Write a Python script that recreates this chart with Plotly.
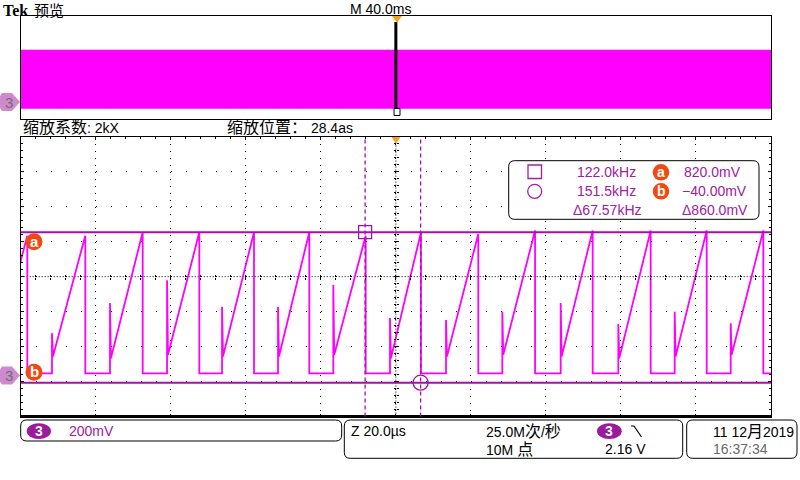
import plotly.graph_objects as go

W, H = 800, 480

# Zoom window: channel 3, 200 mV/div, 20 us/div, trigger at screen centre
drop_times_us = [-98.24, -82.78, -67.48, -52.39, -37.81, -23.07, -8.04,
                 6.70, 21.98, 37.11, 52.47, 67.93, 82.86, 97.95]
rise_times_us = [-106.90, -91.66, -76.20, -60.99, -46.33, -31.41, -16.67,
                 -1.56, 13.37, 28.38, 43.94, 59.30, 74.33, 89.26]
spike_top_v = [0.400, 0.243, 0.415, 0.546, 0.394, 0.394, 0.518,
               0.329, 0.318, 0.365, 0.415, 0.295, 0.365, 0.300]
ramp_foot_v = [0.11, 0.11, 0.10, 0.12, 0.11, 0.11, 0.12,
               0.10, 0.11, 0.12, 0.11, 0.10, 0.11, 0.12]
ramp_peak_v = [0.80, 0.80, 0.82, 0.82, 0.82, 0.82, 0.80,
               0.82, 0.81, 0.83, 0.83, 0.83, 0.83, 0.83]
baseline_v = 0.013
window_end_us = 100.0

time_per_div_us = 20.0
volts_per_div = 0.2
screen_center_v = 0.566
n_hdiv, n_vdiv = 10, 8

cursor_t_us = [-8.197, 6.601]
cursor_v = [0.820, -0.040]

# Overview (preview) record: 40 ms/div
overview_t_ms = [-200.0, 200.0]
overview_hi_v = [0.81, 0.81]
overview_lo_v = [-0.105, -0.105]
overview_range_v = [-0.264, 1.335]
overview_zoom_ms = 0.0

readout_freq = ["122.0kHz", "151.5kHz", "Δ67.57kHz"]
readout_volt = ["820.0mV", "−40.00mV", "Δ860.0mV"]

# ---------------- helpers (pixel -> paper) ----------------
def PX(x):
    return x / W


def PY(y):
    return 1 - y / H


def rrect(x0, y0, x1, y1, r):
    p = [
        f"M{PX(x0 + r)},{PY(y0)}", f"L{PX(x1 - r)},{PY(y0)}",
        f"Q{PX(x1)},{PY(y0)} {PX(x1)},{PY(y0 + r)}", f"L{PX(x1)},{PY(y1 - r)}",
        f"Q{PX(x1)},{PY(y1)} {PX(x1 - r)},{PY(y1)}", f"L{PX(x0 + r)},{PY(y1)}",
        f"Q{PX(x0)},{PY(y1)} {PX(x0)},{PY(y1 - r)}", f"L{PX(x0)},{PY(y0 + r)}",
        f"Q{PX(x0)},{PY(y0)} {PX(x0 + r)},{PY(y0)}", "Z",
    ]
    return " ".join(p)


def poly(points):
    s = "M" + " L".join(f"{PX(x)},{PY(y)}" for x, y in points)
    return s + " Z"


FONT = "Liberation Sans, Noto Sans CJK SC, sans-serif"
PURPLE = "#A020A0"
CUR = "#A410A8"
MAG = "#FF00FF"
ORANGE = "#F04A10"


def cjk(s, size=16):
    return f'<span style="font-size:{size}px">{s}</span>'


# ---------------- waveform ----------------
wave_t, wave_v = [], []
for r, d, s, f, p in zip(rise_times_us, drop_times_us, spike_top_v, ramp_foot_v, ramp_peak_v):
    wave_t += [r, r, r + 0.25, d, d]
    wave_v += [baseline_v, s, f, p, baseline_v]
wave_t.append(window_end_us)
wave_v.append(baseline_v)

half_t = time_per_div_us * n_hdiv / 2
y_rng = [screen_center_v - volts_per_div * n_vdiv / 2, screen_center_v + volts_per_div * n_vdiv / 2]

xdom = [PX(20.7), PX(771)]
ydom = [PY(416.6), PY(136.7)]
ov_ydom = [PY(119), PY(16)]

fig = go.Figure()
fig.add_trace(go.Scatter(x=wave_t, y=wave_v, mode="lines", line=dict(color=MAG, width=1.8),
                         xaxis="x", yaxis="y", hoverinfo="skip"))
fig.add_trace(go.Scatter(x=[cursor_t_us[0]], y=[cursor_v[0]], mode="markers",
                         marker=dict(symbol="square-open", size=13, color=CUR, line=dict(width=1.3)),
                         xaxis="x", yaxis="y", hoverinfo="skip"))
fig.add_trace(go.Scatter(x=[cursor_t_us[1]], y=[cursor_v[1]], mode="markers",
                         marker=dict(symbol="circle-open", size=15, color=CUR, line=dict(width=1.3)),
                         xaxis="x", yaxis="y", hoverinfo="skip"))
fig.add_trace(go.Scatter(x=overview_t_ms, y=overview_lo_v, mode="lines", line=dict(width=0, color=MAG),
                         xaxis="x2", yaxis="y2", hoverinfo="skip"))
fig.add_trace(go.Scatter(x=overview_t_ms, y=overview_hi_v, mode="lines", fill="tonexty", fillcolor=MAG,
                         line=dict(width=0, color=MAG), xaxis="x2", yaxis="y2", hoverinfo="skip"))
for xa, ya in [("x3", "y"), ("x4", "y"), ("x", "y3"), ("x", "y4")]:
    fig.add_trace(go.Scatter(x=[None], y=[None], mode="lines", xaxis=xa, yaxis=ya, hoverinfo="skip"))

main_common = dict(showline=True, linecolor="black", linewidth=1, mirror="ticks", zeroline=False,
                   showticklabels=False, ticks="inside", ticklen=3, tickcolor="black", tickwidth=1,
                   showgrid=True, gridcolor="black", gridwidth=1, fixedrange=True, tickmode="linear")
dot_x = (ydom[1] - ydom[0]) * H / (n_vdiv * 5)
dot_y = (xdom[1] - xdom[0]) * W / (n_hdiv * 5)
xaxis = dict(main_common, domain=xdom, range=[-half_t, half_t], anchor="y", tick0=0, dtick=time_per_div_us,
             griddash=f"1px,{dot_x - 1:.3f}px",
             minor=dict(dtick=time_per_div_us / 5, tick0=0, ticks="inside", ticklen=2, tickcolor="black",
                        showgrid=False))
yaxis = dict(main_common, domain=ydom, range=y_rng, anchor="x", tick0=screen_center_v, dtick=volts_per_div,
             griddash=f"1px,{dot_y - 1:.3f}px",
             minor=dict(dtick=volts_per_div / 5, tick0=screen_center_v, ticks="inside", ticklen=2,
                        tickcolor="black", showgrid=False))

cx_pos = (ydom[0] + ydom[1]) / 2
cy_pos = (xdom[0] + xdom[1]) / 2
centre_x = dict(overlaying="x", anchor="free", position=cx_pos, range=[-half_t, half_t], showline=False,
                showgrid=False, zeroline=False, showticklabels=False, ticklen=2, tickcolor="black",
                tickmode="linear", tick0=0, dtick=time_per_div_us / 5, fixedrange=True, side="bottom")
centre_y = dict(overlaying="y", anchor="free", position=cy_pos, range=y_rng, showline=False,
                showgrid=False, zeroline=False, showticklabels=False, ticklen=2, tickcolor="black",
                tickmode="linear", tick0=screen_center_v, dtick=volts_per_div / 5, fixedrange=True, side="left")

ov_common = dict(showline=True, linecolor="black", linewidth=1, mirror=True, zeroline=False,
                 showticklabels=False, ticks="", showgrid=False, fixedrange=True)

shapes = []
# dense centre lines
shapes.append(dict(type="line", xref="x", yref="y", x0=-half_t, x1=half_t, y0=screen_center_v,
                   y1=screen_center_v, line=dict(color="black", width=1, dash="1px,2px"), layer="below"))
shapes.append(dict(type="line", xref="x", yref="y", x0=0, x1=0, y0=y_rng[0], y1=y_rng[1],
                   line=dict(color="black", width=1, dash="1px,2px"), layer="below"))
# thick bottom border
shapes.append(dict(type="line", xref="x domain", yref="y domain", x0=0, x1=1, y0=0, y1=0,
                   line=dict(color="black", width=3)))
# cursors
for v in cursor_v:
    shapes.append(dict(type="line", xref="x domain", yref="y", x0=0, x1=1, y0=v, y1=v,
                       line=dict(color=CUR, width=2)))
for t in cursor_t_us:
    shapes.append(dict(type="line", xref="x", yref="y domain", x0=t, x1=t, y0=0, y1=1,
                       line=dict(color=CUR, width=1.3, dash="4px,3px")))
# overview zoom bar, square, triangles
shapes.append(dict(type="line", xref="x2", yref="paper", x0=overview_zoom_ms, x1=overview_zoom_ms,
                   y0=PY(108), y1=PY(22), line=dict(color="black", width=3)))
shapes.append(dict(type="rect", xref="paper", yref="paper", x0=PX(394), x1=PX(400), y0=PY(115.5), y1=PY(108.5),
                   line=dict(color="black", width=1), fillcolor="white"))
shapes.append(dict(type="path", xref="paper", yref="paper", path=poly([(392, 16), (402, 16), (397, 22.5)]),
                   fillcolor="#F5A020", line=dict(width=0)))
shapes.append(dict(type="path", xref="paper", yref="paper", path=poly([(391.5, 137), (400.5, 137), (396, 143.5)]),
                   fillcolor="#F5A020", line=dict(width=0)))
# channel 3 ground markers
for gy in [375.5, 102.0]:
    shapes.append(dict(type="path", xref="paper", yref="paper",
                       path=poly([(2, gy - 9), (12, gy - 9), (20, gy), (12, gy + 9), (2, gy + 9), (0, gy + 6), (0, gy - 6)]),
                       fillcolor="#CF8ACF", line=dict(width=0)))
# orange cursor labels on the left
for cy in [241.7, 372.3]:
    shapes.append(dict(type="circle", xref="paper", yref="paper", x0=PX(34 - 8.5), x1=PX(34 + 8.5),
                       y0=PY(cy + 8.5), y1=PY(cy - 8.5), fillcolor=ORANGE, line=dict(width=0)))
# readout box
shapes.append(dict(type="path", xref="paper", yref="paper", path=rrect(508.7, 160.7, 759, 219.3, 6),
                   fillcolor="white", line=dict(color="black", width=1)))
shapes.append(dict(type="rect", xref="paper", yref="paper", x0=PX(528), x1=PX(541.5), y0=PY(178.5), y1=PY(165),
                   line=dict(color=PURPLE, width=1.3)))
shapes.append(dict(type="circle", xref="paper", yref="paper", x0=PX(527.7), x1=PX(541.7), y0=PY(198.3), y1=PY(184.3),
                   line=dict(color=PURPLE, width=1.3)))
for cy in [172.3, 191.3]:
    shapes.append(dict(type="circle", xref="paper", yref="paper", x0=PX(661 - 8.3), x1=PX(661 + 8.3),
                       y0=PY(cy + 8.3), y1=PY(cy - 8.3), fillcolor=ORANGE, line=dict(width=0)))
# bottom status boxes
for b in [(20.7, 420, 341.7, 441), (344.3, 420, 682.7, 458.3), (686.7, 420, 797, 458.3)]:
    shapes.append(dict(type="path", xref="paper", yref="paper", path=rrect(*b, 6),
                       fillcolor="rgba(0,0,0,0)", line=dict(color="black", width=1)))
for (x0, x1) in [(26.7, 51), (597, 621.7)]:
    shapes.append(dict(type="circle", xref="paper", yref="paper", x0=PX(x0), x1=PX(x1), y0=PY(439), y1=PY(423.3),
                       fillcolor="#9C1A9C", line=dict(width=0)))
shapes.append(dict(type="path", xref="paper", yref="paper",
                   path=f"M{PX(631)},{PY(426)} L{PX(634)},{PY(426)} L{PX(641.5)},{PY(437)}",
                   line=dict(color="black", width=1.2)))

ann = []


def text(x, y, s, anchor="left", color="black", size=14, family=FONT, bold=False, yanchor="middle"):
    ann.append(dict(xref="paper", yref="paper", x=PX(x), y=PY(y), text=(f"<b>{s}</b>" if bold else s),
                    showarrow=False, xanchor=anchor, yanchor=yanchor,
                    font=dict(family=family, size=size, color=color)))


text(0.5, 10, "Tek", size=16, family="Liberation Serif, serif", bold=True)
text(32, 10, "预览", size=15, family=FONT)
text(348, 9, "M 40.0ms")
text(20.5, 127, cjk("缩放系数") + ": 2kX")
text(225, 127, cjk("缩放位置：") + " 28.4as")

for i, y in enumerate([172.3, 191.3]):
    text(638, y, readout_freq[i], anchor="right", color=PURPLE)
text(644, 210, readout_freq[2], anchor="right", color=PURPLE)
text(743, 172.3, readout_volt[0], anchor="right", color=PURPLE)
text(748.5, 191.3, readout_volt[1], anchor="right", color=PURPLE)
text(749.5, 210, readout_volt[2], anchor="right", color=PURPLE)
for y, s in [(172.3, "a"), (191.3, "b")]:
    text(661, y - 0.5, s, anchor="center", color="white", size=14, bold=True)
for y, s in [(241.7, "a"), (372.3, "b")]:
    text(34, y - 0.5, s, anchor="center", color="white", size=15, bold=True)
for gy in [375.5, 102.0]:
    text(9, gy, "3", anchor="center", color="#6E6E6E", size=15)

text(38.8, 431, "3", anchor="center", color="white", size=14, bold=True)
text(67, 431, "200mV", color=PURPLE)
text(348.5, 431, "Z 20.0µs")
text(484, 431, "25.0M" + cjk("次") + "/" + cjk("秒"))
text(609.3, 431, "3", anchor="center", color="white", size=14, bold=True)
text(484, 449, "10M " + cjk("点"))
text(603, 449, "2.16 V")
text(710.5, 431, "11 12" + cjk("月") + "2019")
text(710.5, 449, "16:37:34", color="#6A6A6A")

fig.update_layout(
    width=W, height=H, margin=dict(l=0, r=0, t=0, b=0),
    paper_bgcolor="white", plot_bgcolor="white", showlegend=False,
    font=dict(family=FONT, size=14, color="black"),
    xaxis=xaxis, yaxis=yaxis,
    xaxis2=dict(ov_common, domain=xdom, range=overview_t_ms, anchor="y2"),
    yaxis2=dict(ov_common, domain=ov_ydom, range=overview_range_v, anchor="x2"),
    xaxis3=dict(centre_x, ticks="outside"), xaxis4=dict(centre_x, ticks="inside"),
    yaxis3=dict(centre_y, ticks="outside"), yaxis4=dict(centre_y, ticks="inside"),
    shapes=shapes, annotations=ann,
)

fig.write_html("out.html", config={"displayModeBar": False, "staticPlot": True},
               post_script="document.body.style.margin='0';document.body.style.overflow='hidden';")
